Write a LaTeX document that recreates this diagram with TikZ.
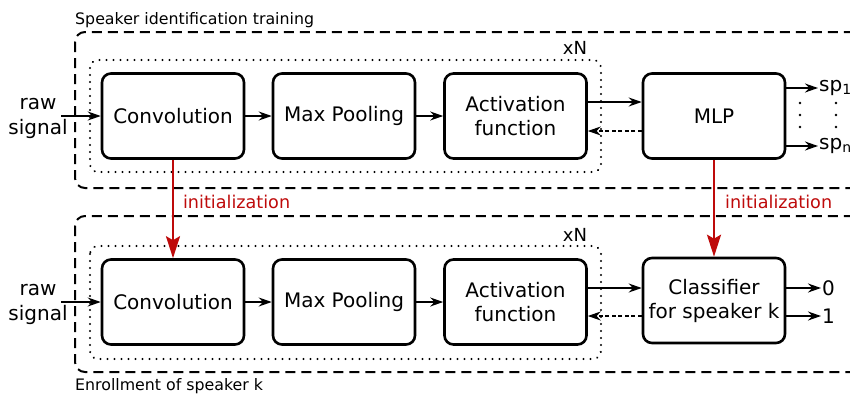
\documentclass[tikz,border=0pt]{standalone}
\usepackage{fontspec}
\setmainfont{DejaVu Sans}
\usetikzlibrary{arrows.meta}
\definecolor{initred}{RGB}{190,10,10}
\begin{document}
\begin{tikzpicture}[x=1pt,y=-1pt]
\tikzstyle{block}=[draw, rounded corners=9pt, line width=2.6pt, minimum width=142pt, minimum height=85pt, align=center, font=\fontsize{20}{24}\selectfont]
\tikzstyle{line}=[draw, line width=1.6pt, -{Stealth[length=13pt,width=9pt]}]
\tikzstyle{back}=[line, dash pattern=on 4pt off 2.5pt]
\tikzstyle{init}=[draw=initred, line width=2.2pt, -{Stealth[length=22pt,width=14pt,inset=4pt]}]
\tikzstyle{stage}=[draw, line width=2pt, dash pattern=on 10pt off 6pt, rounded corners=10pt]
\tikzstyle{repeat}=[draw, line width=2.2pt, dash pattern=on 0.1pt off 6.9pt, line cap=round, rounded corners=8pt]
\tikzstyle{txt}=[font=\fontsize{20}{25}\selectfont, align=center, inner sep=1pt]
\tikzstyle{small}=[font=\fontsize{15.8}{18}\selectfont, inner sep=0pt]

\useasboundingbox (0,0) rectangle (850,394);
\clip (0,0) rectangle (850,394);

% Stage frames
\draw[stage] (75,32) rectangle (880,188);
\draw[stage] (75,216) rectangle (880,372);
\node[small, anchor=base west] (train) at (75,24) {Speaker identification training};
\node[small, anchor=base west] (enrol) at (75,390) {Enrollment of speaker k};

% Repeated blocks
\draw[repeat] (90,60) rectangle (601,172);
\draw[repeat] (90,246) rectangle (601,359);
\node[font=\fontsize{18}{20}\selectfont] (xn1) at (575,48) {xN};
\node[font=\fontsize{18}{20}\selectfont] (xn2) at (575,235) {xN};

% Training row
\node[txt] (raw1) at (38,118) {raw\\signal};
\node[block] (conv1) at (173,116) {Convolution};
\node[block] (pool1) at (344,116) {Max Pooling};
\node[block] (act1) at (515.5,116) {Activation\\function};
\node[block] (mlp) at (714,116) {MLP};
\coordinate (in1) at (61,116);
\node[txt, anchor=west] (sp1) at (818,88) {sp\textsubscript{1}};
\node[txt, anchor=west] (spn) at (818,146) {sp\textsubscript{n}};

% Enrollment row
\node[txt] (raw2) at (38,304) {raw\\signal};
\node[block] (conv2) at (173,302) {Convolution};
\node[block] (pool2) at (344,302) {Max Pooling};
\node[block] (act2) at (515.5,302) {Activation\\function};
\node[block] (clf) at (714,300.5) {Classifier\\for speaker k};
\coordinate (in2) at (61,302);
\node[txt, anchor=west] (out0) at (821,288) {0};
\node[txt, anchor=west] (out1) at (821,316) {1};

% Forward and backward flow
\draw[line] (in1) -- (conv1);
\draw[line] (conv1) -- (pool1);
\draw[line] (pool1) -- (act1);
\draw[line] ([yshift=14pt]act1.east) -- ([yshift=14pt]mlp.west);
\draw[back] ([yshift=-15pt]mlp.west) -- ([yshift=-15pt]act1.east);
\draw[line] (mlp.east |- sp1) -- (sp1);
\draw[line] (mlp.east |- spn) -- (spn);
\foreach \x in {800,836}
  \foreach \y in {103,115,127}
    \fill (\x,\y) circle (1.4pt);

\draw[line] (in2) -- (conv2);
\draw[line] (conv2) -- (pool2);
\draw[line] (pool2) -- (act2);
\draw[line] ([yshift=14pt]act2.east) -- ([yshift=12.5pt]clf.west);
\draw[back] ([yshift=-15.5pt]clf.west) -- ([yshift=-14pt]act2.east);
\draw[line] (clf.east |- out0) -- (out0);
\draw[line] (clf.east |- out1) -- (out1);

% Initialization
\draw[init] (conv1) -- node[pos=0.43, right=9pt, text=initred, font=\fontsize{17.6}{20}\selectfont, inner sep=0pt] {initialization} (conv2);
\draw[init] (mlp) -- node[pos=0.43, right=10pt, text=initred, font=\fontsize{17.6}{20}\selectfont, inner sep=0pt] {initialization} (clf);
\end{tikzpicture}
\end{document}
